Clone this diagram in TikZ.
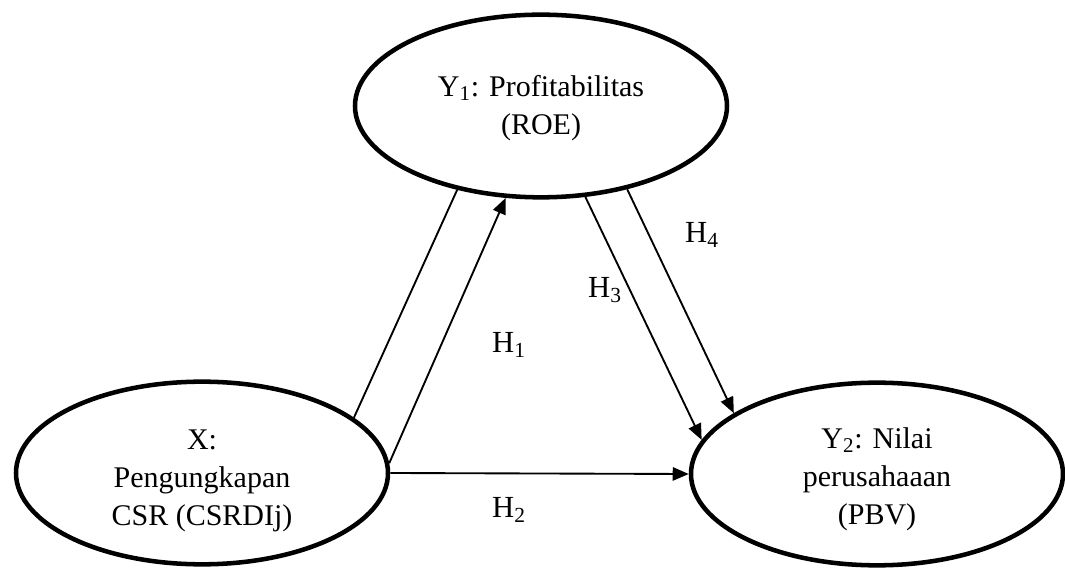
\documentclass[tikz,border=0pt]{standalone}
\usepackage{fontspec}
\setmainfont{Liberation Serif}
\usetikzlibrary{shapes.geometric,arrows.meta}
\tikzset{
  var/.style={ellipse, draw, line width=3.4pt, minimum width=279pt, minimum height=137pt,
    inner sep=0pt},
  vartext/.style={align=center, inner sep=0pt, font=\fontsize{22.5}{28.5}\selectfont},
  conn/.style={line width=1.4pt},
  arr/.style={conn, -{Triangle[length=12pt,width=10pt]}},
  hlab/.style={font=\fontsize{23}{27}\selectfont, inner sep=0pt}
}
\begin{document}
\begin{tikzpicture}[x=0.75pt,y=-0.75pt]
\useasboundingbox (0,0) rectangle (1065,570);
\node[var] (y1) at (541,106) {};
\node[var] (x) at (202,473) {};
\node[var] (y2) at (877,474) {};
\node[vartext] (y1t) at ([yshift=-1.5pt]y1.center) {Y\textsubscript{1}: Profitabilitas\\(ROE)};
\node[vartext] (xt) at ([yshift=-6pt]x.center) {X:\\Pengungkapan\\CSR (CSRDIj)};
\node[vartext] (y2t) at ([yshift=-4pt]y2.center) {Y\textsubscript{2}: Nilai\\perusahaaan\\(PBV)};
\draw[conn] (x.20.8) -- (y1.225.3);
\draw[arr] (x.3) -- (y1.249.6);
\draw[arr] (x.0) -- (y2.180);
\draw[arr] (y1.296.1) -- (y2.169.2);
\draw[arr] (y1.316.6) -- (y2.157.2);
\node[hlab] (h1) at (509,345) {H\textsubscript{1}};
\node[hlab] (h2) at (509,510) {H\textsubscript{2}};
\node[hlab] (h3) at (605,290) {H\textsubscript{3}};
\node[hlab] (h4) at (702,235) {H\textsubscript{4}};
\end{tikzpicture}
\end{document}
